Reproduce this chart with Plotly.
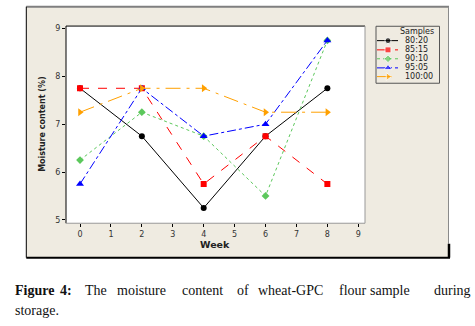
import plotly.graph_objects as go

W, H = 475, 326

# Storage time (weeks) and moisture content (%) per flour blend
weeks = [0, 2, 4, 6, 8]
samples = ["80:20", "85:15", "90:10", "95:05", "100:00"]
m_80_20 = [7.75, 6.75, 5.25, 6.75, 7.75]
m_85_15 = [7.75, 7.75, 5.75, 6.75, 5.75]
m_90_10 = [6.25, 7.25, 6.75, 5.5, 8.75]
m_95_05 = [5.75, 7.75, 6.75, 7.0, 8.75]
m_100_00 = [7.25, 7.75, 7.75, 7.25, 7.25]
series = [m_80_20, m_85_15, m_90_10, m_95_05, m_100_00]

x_ticks = list(range(10))
y_ticks = [5, 6, 7, 8, 9]

styles = [
    dict(color="#000000", dash="solid", symbol="circle", size=6),
    dict(color="#FF0000", dash="dash", symbol="square", size=6),
    dict(color="#5CC85C", dash="dot", symbol="diamond", size=6),
    dict(color="#0000FF", dash="dashdot", symbol="triangle-up", size=7),
    dict(color="#FFA000", dash="longdashdot", symbol="triangle-right", size=7),
]

BEIGE = "#EFEBE1"
TICK_FONT = dict(family="DejaVu Sans", size=8, color="#333333")


def fx(px):
    return px / W


def fy(py):
    return 1 - py / H


# plot area in pixels
PL, PR, PT, PB = 66, 365, 24.3, 223.3

fig = go.Figure()

for name, vals, st in zip(samples, series, styles):
    fig.add_trace(go.Scatter(
        x=weeks, y=vals, mode="lines+markers", name=name,
        line=dict(color=st["color"], dash=st["dash"], width=1),
        marker=dict(color=st["color"], symbol=st["symbol"], size=st["size"]),
        showlegend=False, xaxis="x", yaxis="y",
    ))

# hand-built legend keys on a pixel-scaled overlay axis
LEG_ROWS = [39, 48.3, 57.3, 66.5, 75.3]
for name, st, ry in zip(samples, styles, LEG_ROWS):
    fig.add_trace(go.Scatter(
        x=[377, 388, 398], y=[ry, ry, ry], mode="lines+markers",
        line=dict(color=st["color"], dash=st["dash"], width=1),
        marker=dict(color=st["color"], symbol=st["symbol"], size=[0, st["size"], 0]),
        showlegend=False, xaxis="x2", yaxis="y2", hoverinfo="skip",
    ))

shapes = []
# outer beige frame
shapes.append(dict(type="rect", xref="paper", yref="paper", layer="below",
                   x0=fx(26.3), x1=fx(448.3), y0=fy(258), y1=fy(4.7),
                   fillcolor=BEIGE, line=dict(width=0)))
# white plotting area
shapes.append(dict(type="rect", xref="paper", yref="paper", layer="below",
                   x0=fx(PL), x1=fx(PR), y0=fy(PB), y1=fy(PT),
                   fillcolor="#FFFFFF", line=dict(width=0)))


def seg(x0, y0, x1, y1, color, width):
    shapes.append(dict(type="line", xref="paper", yref="paper",
                       x0=fx(x0), y0=fy(y0), x1=fx(x1), y1=fy(y1),
                       line=dict(color=color, width=width)))


# frame edges
seg(26.3, 4.7, 449, 4.7, "#7F7F7F", 2)
seg(26.3, 4.7, 26.3, 258, "#000000", 1)
seg(26.3, 258, 450, 258, "#000000", 2)
seg(448.5, 4.7, 448.5, 244, "#8A8A8A", 1)
seg(449, 244, 449, 258, "#000000", 2.5)
# plot area edges
seg(PL, PT, PR, PT, "#000000", 1)
seg(PL, PT, PL, PB, "#000000", 1)
seg(PR, PT, PR, PB, "#999999", 1)
seg(PL, PB, PR, PB, "#999999", 1)
# legend box
shapes.append(dict(type="rect", xref="paper", yref="paper",
                   x0=fx(376), x1=fx(439.5), y0=fy(82), y1=fy(24.5),
                   line=dict(color="#555555", width=1)))

annotations = []


def label(text, x, y, size, family="DejaVu Sans", color="#222222",
          xanchor="center", angle=0):
    annotations.append(dict(xref="paper", yref="paper", x=fx(x), y=fy(y),
                            xanchor=xanchor, yanchor="middle", text=text,
                            showarrow=False, textangle=angle,
                            font=dict(family=family, size=size, color=color)))


# axis titles
label("<b>Week</b>", 215, 245, 9.5)
label("<b>Moisture content (%)</b>", 43, 124, 8, angle=-90)
# legend title and labels
label("Samples", 416.5, 29.5, 8)
for name, ry in zip(samples, LEG_ROWS):
    label(name, 402.5, ry, 8, xanchor="left")

# caption, justified word by word
cap_words = [("<b>Figure</b>", 12.5), ("<b>4:</b>", 58), ("The", 82.5), ("moisture", 115),
             ("content", 180), ("of", 235), ("wheat-GPC", 256), ("flour", 337),
             ("sample", 368), ("during", 431.5)]
for word, x in cap_words:
    label(word, x, 291.5, 14, family="Liberation Serif", color="#111111", xanchor="left")
label("storage.", 12.5, 311.5, 14, family="Liberation Serif", color="#111111", xanchor="left")

fig.update_layout(
    width=W, height=H,
    margin=dict(l=0, r=0, t=0, b=0),
    paper_bgcolor="#FFFFFF",
    plot_bgcolor="rgba(0,0,0,0)",
    shapes=shapes,
    annotations=annotations,
    xaxis=dict(domain=[fx(PL), fx(PR)], range=[-0.453, 9.217], tickmode="array",
               tickvals=x_ticks, ticks="outside", ticklen=3, tickcolor="#000000",
               showgrid=False, zeroline=False, showline=False, tickfont=TICK_FONT,
               anchor="y"),
    yaxis=dict(domain=[fy(PB), fy(PT)], range=[4.93, 9.05], tickmode="array",
               tickvals=y_ticks, ticks="outside", ticklen=3, tickcolor="#000000",
               showgrid=False, zeroline=False, showline=False, tickfont=TICK_FONT,
               anchor="x"),
    xaxis2=dict(domain=[0, 1], range=[0, W], visible=False, anchor="y2"),
    yaxis2=dict(domain=[0, 1], range=[H, 0], visible=False, anchor="x2"),
)

fig.write_html("out.html")
